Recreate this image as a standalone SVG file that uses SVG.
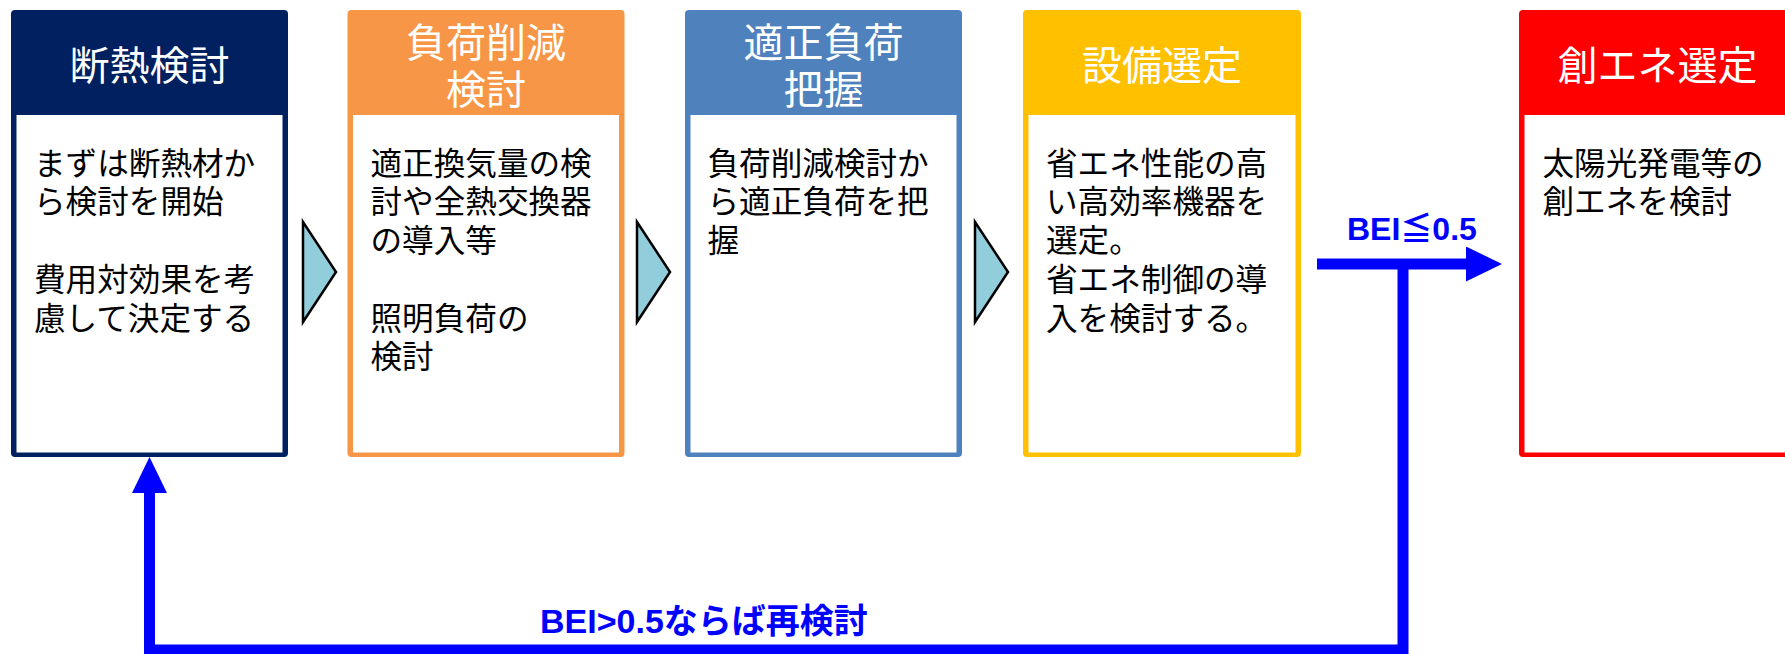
<svg xmlns="http://www.w3.org/2000/svg" width="1785" height="654" viewBox="0 0 1785 654">
<style>
.hd{font-family:"Noto Sans CJK JP","Noto Sans CJK SC",sans-serif;font-size:40px;fill:#fff;text-anchor:middle}
.bd{font-family:"Noto Sans CJK JP","Noto Sans CJK SC",sans-serif;font-size:31.6px;fill:#000}
.inner{fill:#fff}
.tri{fill:#92CDDC;stroke:#000;stroke-width:2.5;stroke-linejoin:miter}
.lbl{font-family:"Liberation Sans","Noto Sans CJK JP",sans-serif;font-weight:bold;fill:#0000FF}
.conn{fill:none;stroke:#0000FF;stroke-width:11}
</style>
<defs>
<marker id="ah" markerUnits="userSpaceOnUse" markerWidth="36" markerHeight="35" viewBox="0 0 36 35" refX="0" refY="17.5" orient="auto">
<path d="M0,0 L36,17.5 L0,35 Z" fill="#0000FF"/>
</marker>
</defs>
<rect width="1785" height="654" fill="#fff"/>

<g id="node1">
<rect x="11" y="10" width="277" height="447" rx="4" fill="#002060"/>
<rect class="inner" x="16.5" y="115" width="266" height="337.5"/>
<text class="hd" x="149.5" y="80">断熱検討</text>
<text class="bd" x="34"><tspan x="34" y="174.5">まずは断熱材か</tspan><tspan x="34" y="213.25">ら検討を開始</tspan><tspan x="34" y="290.75">費用対効果を考</tspan><tspan x="34" y="329.5">慮して決定する</tspan></text>
</g>

<g id="node2">
<rect x="347.5" y="10" width="277" height="447" rx="4" fill="#F79646"/>
<rect class="inner" x="353" y="115" width="266" height="337.5"/>
<text class="hd" x="486" y="57">負荷削減</text>
<text class="hd" x="486" y="104">検討</text>
<text class="bd"><tspan x="370.5" y="174.5">適正換気量の検</tspan><tspan x="370.5" y="213.25">討や全熱交換器</tspan><tspan x="370.5" y="252">の導入等</tspan><tspan x="370.5" y="329.5">照明負荷の</tspan><tspan x="370.5" y="368.25">検討</tspan></text>
</g>

<g id="node3">
<rect x="685" y="10" width="277" height="447" rx="4" fill="#4F81BD"/>
<rect class="inner" x="690.5" y="115" width="266" height="337.5"/>
<text class="hd" x="823.5" y="57">適正負荷</text>
<text class="hd" x="823.5" y="104">把握</text>
<text class="bd"><tspan x="707.5" y="174.5">負荷削減検討か</tspan><tspan x="707.5" y="213.25">ら適正負荷を把</tspan><tspan x="707.5" y="252">握</tspan></text>
</g>

<g id="node4">
<rect x="1023" y="10" width="278" height="447" rx="4" fill="#FFC000"/>
<rect class="inner" x="1028.5" y="115" width="267" height="337.5"/>
<text class="hd" x="1162" y="80">設備選定</text>
<text class="bd"><tspan x="1046" y="174.5">省エネ性能の高</tspan><tspan x="1046" y="213.25">い高効率機器を</tspan><tspan x="1046" y="252">選定。</tspan><tspan x="1046" y="290.75">省エネ制御の導</tspan><tspan x="1046" y="329.5">入を検討する。</tspan></text>
</g>

<g id="node5">
<rect x="1519" y="10" width="277" height="447" rx="4" fill="#FF0000"/>
<rect class="inner" x="1524.5" y="115" width="266" height="337.5"/>
<text class="hd" x="1657.5" y="80">創エネ選定</text>
<text class="bd"><tspan x="1542.5" y="174.5">太陽光発電等の</tspan><tspan x="1542.5" y="213.25">創エネを検討</tspan></text>
</g>

<g id="step-arrows">
<polygon class="tri" points="303,222 336,272 303,322"/>
<polygon class="tri" points="637,222 670,272 637,322"/>
<polygon class="tri" points="975,222 1008,272 975,322"/>
</g>

<g id="connectors">
<line class="conn" x1="1317" y1="264" x2="1466" y2="264" marker-end="url(#ah)"/>
<polyline class="conn" points="1403,264 1403,650 149.5,650 149.5,493" marker-end="url(#ah)"/>
<text class="lbl" x="1347" y="240" font-size="32">BEI≦0.5</text>
<text class="lbl" x="540" y="633" font-size="34">BEI&gt;0.5ならば再検討</text>
</g>
</svg>
